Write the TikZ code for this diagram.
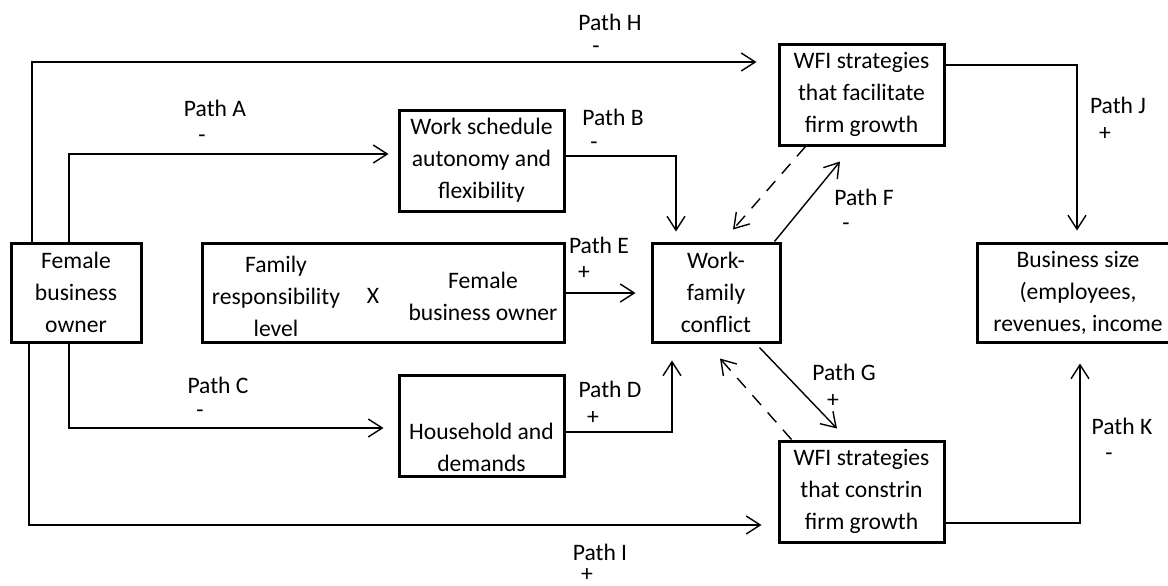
\documentclass[tikz,border=0pt]{standalone}
\usepackage{fontspec}
\setmainfont{Carlito}
\usetikzlibrary{arrows.meta,calc}

\tikzset{
    box/.style={draw, line width=1.5pt, align=center, inner sep=0pt},
    conn/.style={line width=0.7pt, -{Straight Barb[length=7pt,width=9pt]}},
    dashconn/.style={conn, dash pattern=on 6.5pt off 5pt},
    lbl/.style={inner sep=0pt}
}

\begin{document}
\begin{tikzpicture}[x=0.5pt, y=-0.5pt, font=\fontsize{11.8}{16}\selectfont]
        \useasboundingbox (0,0) rectangle (1168,585);
        \clip (0,0) rectangle (1168,585);

        % boxes
        \node[box, minimum width=65pt, minimum height=49.5pt] (fbo) at (76,292.5) {Female\\business\\owner};
        \node[box, minimum width=82.5pt, minimum height=50.5pt] (wsa) at (481.5,160.5) {Work schedule\\autonomy and\\flexibility};
        \node[box, minimum width=181pt, minimum height=49.5pt] (int) at (383,292.5) {};
        \node (fam) at (276,296) [align=center] {Family\\responsibility\\level};
        \node (times) at (373,296) {X};
        \node (own) at (483,296) [align=center] {Female\\business owner};
        \node[box, minimum width=82.5pt, minimum height=50.5pt] (hh) at (481.5,425.5) {};
        \node (hhtxt) at (481.5,447) [align=center] {Household and\\demands};
        \node[box, minimum width=64pt, minimum height=49.5pt] (wfc) at (716,292.5) {Work-\\family\\conflict};
        \node[box, minimum width=82.5pt, minimum height=50.5pt] (wff) at (861.5,94.5) {WFI strategies\\that facilitate\\firm growth};
        \node[box, minimum width=82.5pt, minimum height=50.5pt] (wfcn) at (861.5,491.5) {WFI strategies\\that constrin\\firm growth};
        \node[box, minimum width=101pt, minimum height=49.5pt] (bs) at (1078,292.5) {Business size\\(employees,\\revenues, income};

        % paths
        \draw[conn] (fbo.north) ++(-44,0) |- ($(wff.west)+(-21,-32.5)$);
        \draw[conn] (fbo.north) ++(-7,0) |- ($(wsa.west)+(-9,-6.5)$);
        \draw[conn] ($(wsa.east)+(0,-4.5)$) -| ($(wfc.north)+(-40,-10)$);
        \draw[conn] ($(int.east)+(0,0.5)$) -- ($(wfc.west)+(-15,0.5)$);
        \draw[conn] ($(hh.east)+(0,6.5)$) -| ($(wfc.south)+(-44,17)$);
        \draw[conn] (fbo.south) ++(-7,0) |- ($(hh.west)+(-14,2.5)$);
        \draw[conn] (fbo.south) ++(-47,0) |- ($(wfcn.west)+(-16,33.5)$);
        \draw[conn] ($(wfc.north east)+(-7,0)$) -- ($(wff.south)+(-21.5,15)$);
        \draw[dashconn] ($(wff.south west)+(28,0)$) -- ($(wfc.north)+(17,-12)$);
        \draw[conn] ($(wfc.south east)+(-22,4)$) -- ($(wfcn.north)+(-24.5,-11)$);
        \draw[dashconn] ($(wfcn.north west)+(14,0)$) -- ($(wfc.south)+(4,15)$);
        \draw[conn] ($(wff.east)+(0,-29.5)$) -| ($(bs.north)+(-1,-11)$);
        \draw[conn] ($(wfcn.east)+(0,31.5)$) -| ($(bs.south)+(2,20)$);

        % labels
        \node[lbl] (labH) at (610,22) {Path H};
        \node[lbl] (sgnH) at (596,50) {-};
        \node[lbl] (labA) at (215,108) {Path A};
        \node[lbl] (sgnA) at (202,139) {-};
        \node[lbl] (labB) at (613,117) {Path B};
        \node[lbl] (sgnB) at (594,146) {-};
        \node[lbl] (labE) at (599,245) {Path E};
        \node[lbl] (sgnE) at (584,273) {+};
        \node[lbl] (labD) at (610,389) {Path D};
        \node[lbl] (sgnD) at (593,418) {+};
        \node[lbl] (labC) at (218,385) {Path C};
        \node[lbl] (sgnC) at (200,414) {-};
        \node[lbl] (labI) at (600,552) {Path I};
        \node[lbl] (sgnI) at (587,575) {+};
        \node[lbl] (labF) at (864,197) {Path F};
        \node[lbl] (sgnF) at (846,227) {-};
        \node[lbl] (labG) at (844,372) {Path G};
        \node[lbl] (sgnG) at (833,401) {+};
        \node[lbl] (labJ) at (1118,105) {Path J};
        \node[lbl] (sgnJ) at (1105,134) {+};
        \node[lbl] (labK) at (1122,426) {Path K};
        \node[lbl] (sgnK) at (1109,457) {-};
    \end{tikzpicture}
\end{document}
